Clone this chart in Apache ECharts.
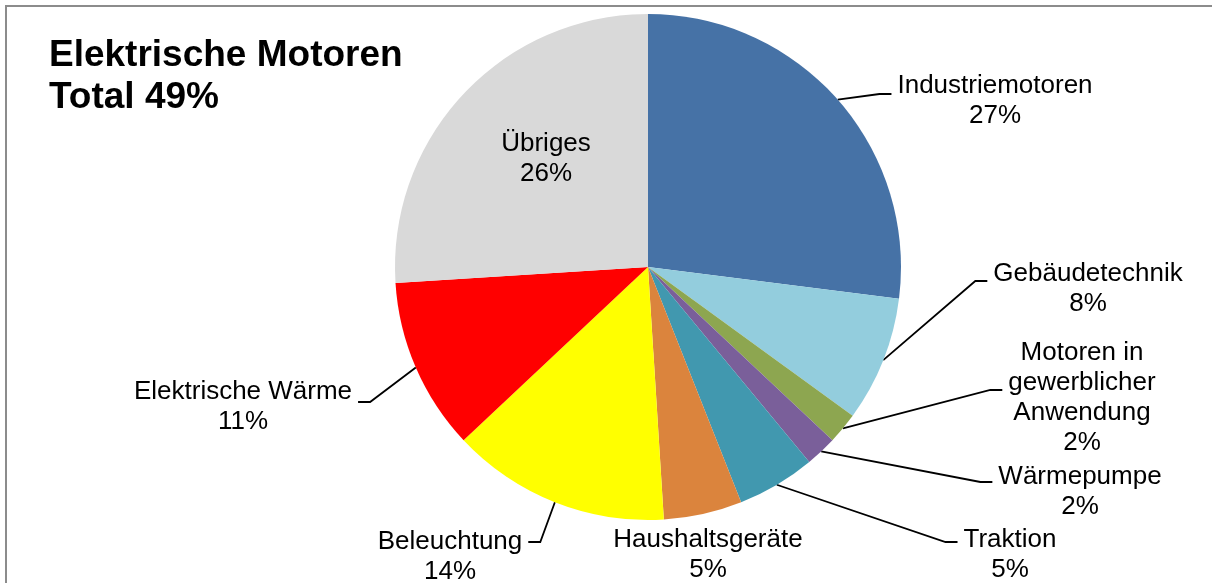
<!DOCTYPE html>
<html>
<head>
<meta charset="utf-8">
<script src="https://cdn.jsdelivr.net/npm/echarts@6/dist/echarts.min.js"></script>
<style>
  html, body { margin: 0; padding: 0; background: #fff; }
  #chart { width: 1212px; height: 583px; }
</style>
</head>
<body>
<div id="chart"></div>
<script>
// data
var categories = ['Industriemotoren', 'Gebäudetechnik', 'Motoren in\ngewerblicher\nAnwendung', 'Wärmepumpe',
  'Traktion', 'Haushaltsgeräte', 'Beleuchtung', 'Elektrische Wärme', 'Übriges'];
var shares = [27, 8, 2, 2, 5, 5, 14, 11, 26];
var sliceColors = ['#4672a6', '#93cddd', '#8da650', '#7a5f9a', '#4198af', '#db843d', '#ffff00', '#ff0000', '#d9d9d9'];

// where the labels sit: center x, center y, y offset of leader end, side of the leader ('' = none)
var labelPlace = [
  [995, 101, -7, 'r'],
  [1088, 289, -8, 'r'],
  [1082, 398, -8, 'r'],
  [1080, 492, -10, 'r'],
  [1010, 555, -13, 'r'],
  [708, 555, 0, ''],
  [450, 557, -15, 'l'],
  [243, 407, -5, 'l'],
  [546, 159, 0, '']
];

var chart = echarts.init(document.getElementById('chart'));
var font = "'Liberation Sans', Arial, sans-serif";

var pieData = categories.map(function (name, i) {
  return {
    name: name,
    value: shares[i],
    itemStyle: { color: sliceColors[i] },
    labelLine: { show: labelPlace[i][3] !== '' }
  };
});

var option = {
  animation: false,
  backgroundColor: '#fff',
  title: {
    text: 'Elektrische Motoren\nTotal 49%',
    left: 49,
    top: 35,
    padding: 0,
    textStyle: { fontFamily: font, fontSize: 37, fontWeight: 'bold', lineHeight: 42, color: '#000' }
  },
  graphic: [{
    type: 'rect',
    shape: { x: 6, y: 6, width: 1400, height: 800 },
    style: { fill: 'none', stroke: '#8c8c8c', lineWidth: 2 },
    silent: true
  }],
  series: [{
    type: 'pie',
    center: [648, 267],
    radius: 253,
    startAngle: 90,
    clockwise: true,
    avoidLabelOverlap: false,
    data: pieData,
    label: {
      show: true,
      position: 'outside',
      formatter: function (p) { return p.name + '\n' + p.value + '%'; },
      fontFamily: font,
      fontSize: 26,
      lineHeight: 30,
      color: '#000'
    },
    labelLine: { length: 5, length2: 5, lineStyle: { color: '#000', width: 1.8 } },
    labelLayout: function (p) {
      var pl = labelPlace[p.dataIndex];
      var out = { x: pl[0], y: pl[1], align: 'center', verticalAlign: 'middle' };
      var pts = p.labelLinePoints;
      if (pts && pl[3] !== '') {
        var half = p.labelRect.width / 2;
        var y = pl[1] + pl[2];
        var end = pl[3] === 'r' ? pl[0] - half - 6 : pl[0] + half + 6;
        var kink = pl[3] === 'r' ? end - 12 : end + 12;
        out.labelLinePoints = [pts[0], [kink, y], [end, y]];
      }
      return out;
    },
    emphasis: { disabled: true }
  }]
};

chart.setOption(option);
</script>
</body>
</html>
